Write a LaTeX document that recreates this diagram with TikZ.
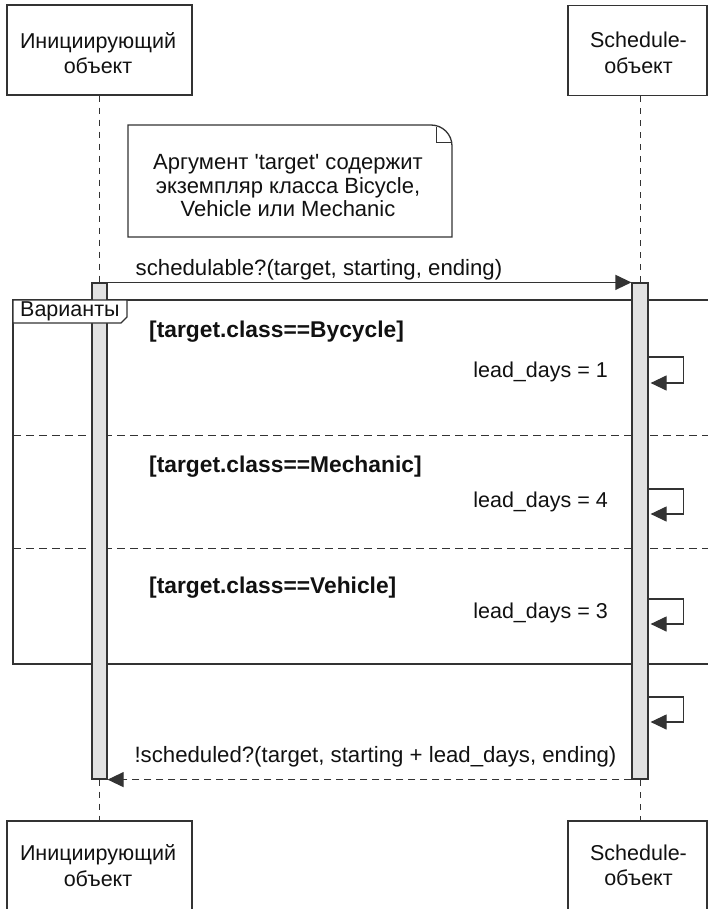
\documentclass[tikz,border=0pt]{standalone}
\usepackage{fontspec}
\newfontfamily\diagfont{Liberation Sans}
\usetikzlibrary{arrows.meta}
\definecolor{inkc}{HTML}{333333}
\definecolor{textc}{HTML}{111111}
\definecolor{barc}{HTML}{E2E2E2}

\tikzset{
  txt/.style={font=\diagfont\fontsize{21.5}{25.5}\selectfont, inner sep=0pt, text=textc},
  msgtxt/.style={txt, font=\diagfont\fontsize{22.2}{26}\selectfont, anchor=base},
  guardtxt/.style={font=\diagfont\fontsize{22.8}{26}\selectfont\bfseries, inner sep=0pt, text=textc, anchor=base west},
  actorbox/.style={draw=inkc, line width=1.2pt, fill=white, inner sep=0pt, minimum height=90pt},
  barbox/.style={draw=inkc, line width=1.2pt, fill=barc, inner sep=0pt, minimum height=496pt},
  lifeline/.style={draw=inkc, line width=1pt, dash pattern=on 6pt off 6pt},
  frameline/.style={draw=inkc, line width=1.3pt},
  sepline/.style={draw=inkc, line width=1pt, dash pattern=on 8pt off 5pt},
  msgline/.style={draw=inkc, line width=1.2pt},
  tipend/.style={-{Triangle[length=16pt,width=15pt]}},
  replyline/.style={dash pattern=on 7pt off 5pt},
}

\begin{document}
\begin{tikzpicture}[x=1pt,y=-1pt]
\useasboundingbox (0,0) rectangle (708,909);
\clip (0,0) rectangle (708,909);

% participant heads and feet
\node[actorbox, minimum width=185pt] (initTop) at (99.5,50) {};
\node[actorbox, minimum width=139pt] (schedTop) at (637.5,50.5) {};
\node[actorbox, minimum width=185pt] (initBot) at (99.5,866) {};
\node[actorbox, minimum width=139pt] (schedBot) at (637.5,866) {};
\node[txt, align=center] (initTopLbl) at (98,53) {Инициирующий\\объект};
\node[txt, align=center] (schedTopLbl) at (638.5,53) {Schedule-\\объект};
\node[txt, align=center] (initBotLbl) at (98,865.5) {Инициирующий\\объект};
\node[txt, align=center] (schedBotLbl) at (638.5,865.5) {Schedule-\\объект};

% activation bars (placed first so the lifelines can refer to them)
\path (99.5,531) node[barbox, minimum width=15pt] (ibar) {}
      (640,531) node[barbox, minimum width=16pt] (sbar) {};

% lifelines
\draw[lifeline] (initTop.south -| ibar.center) -- (initBot.north -| ibar.center);
\draw[lifeline] (schedTop.south -| sbar.center) -- (schedBot.north -| sbar.center);

% alt combined fragment
\draw[frameline] (708,300) -- (13,300) -- (13,664) -- (708,664);
\draw[sepline] (13,435) -- (708,435);
\draw[sepline] (13,548) -- (708,548);

% bars drawn over the fragment lines
\node[barbox, minimum width=15pt] at (ibar.center) {};
\node[barbox, minimum width=16pt] at (sbar.center) {};

% fragment operator tab
\draw[frameline, fill=white] (13,300) -- (127,300) -- (127,317) -- (121,323) -- (13,323) -- cycle;
\node[txt, font=\diagfont\fontsize{21.5}{24}\selectfont, anchor=base west] (altLbl) at (20,316) {Варианты};

% note
\draw[frameline, fill=white] (128,125) -- (431,125) to[out=0,in=90] (452,146) -- (452,237) -- (128,237) -- cycle;
\draw[msgline, line width=1pt] (436,127) -- (436,143) -- (451,143);
\node[txt, align=center, font=\diagfont\fontsize{22}{23.5}\selectfont] (noteTxt) at (288,186)
  {Аргумент 'target' содержит\\экземпляр класса Bicycle,\\Vehicle или Mechanic};

% call and reply
\draw[msgline, tipend] (ibar.north east) -- (sbar.north west);
\node[msgtxt] (callLbl) at (319,275) {schedulable?(target, starting, ending)};
\draw[msgline, replyline, tipend] (sbar.south west) -- (ibar.south east);
\node[msgtxt] (replyLbl) at (375.5,762) {!scheduled?(target, starting + lead\_days, ending)};

% guards
\node[guardtxt] (g1) at (149,337) {[target.class==Bycycle]};
\node[guardtxt] (g2) at (149,472) {[target.class==Mechanic]};
\node[guardtxt] (g3) at (149,593) {[target.class==Vehicle]};

% self messages
\coordinate (s1a) at (0,357);  \coordinate (s1b) at (0,383);
\coordinate (s2a) at (0,489);  \coordinate (s2b) at (0,514);
\coordinate (s3a) at (0,599);  \coordinate (s3b) at (0,624);
\coordinate (s4a) at (0,697);  \coordinate (s4b) at (0,722);
\foreach \a/\b in {s1a/s1b, s2a/s2b, s3a/s3b, s4a/s4b}{
  \draw[msgline, tipend, shorten >=2pt] (sbar.east |- \a) -- ++(35,0) |- (sbar.east |- \b);
}
\node[txt, anchor=base east] (ld1) at (608,377) {lead\_days = 1};
\node[txt, anchor=base east] (ld2) at (608,507) {lead\_days = 4};
\node[txt, anchor=base east] (ld3) at (608,618) {lead\_days = 3};
\end{tikzpicture}
\end{document}
